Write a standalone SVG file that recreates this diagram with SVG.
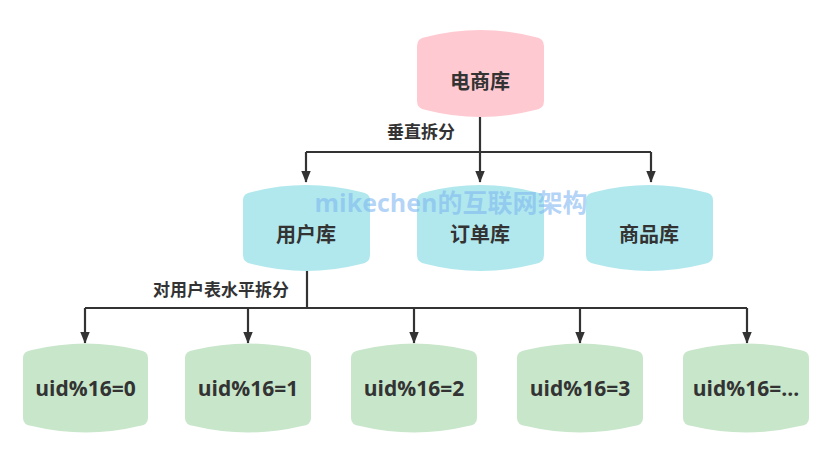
<svg xmlns="http://www.w3.org/2000/svg" width="831" height="464" viewBox="0 0 831 464">
<defs>
<style>
.lbl{font-family:"Noto Sans CJK SC","Liberation Sans",sans-serif;font-weight:bold;fill:#333;text-anchor:middle}
.node{font-size:20px}
.uid{font-family:"Open Sans","Noto Sans","Liberation Sans",sans-serif;font-weight:bold;fill:#333;text-anchor:middle;font-size:21px}
.edge{font-size:17px}
.c{stroke:#333;stroke-width:2.2;fill:none}
.pink{fill:#ffc9d1}
.cyan{fill:#b1e8ee}
.green{fill:#c8e6ca}
</style>
<marker id="ah" markerWidth="12" markerHeight="15" refX="14" refY="6" orient="auto" markerUnits="userSpaceOnUse" viewBox="0 0 15 12">
<path d="M0,0 L15,6 L0,12 Z" fill="#333"/>
</marker>
</defs>
<rect width="831" height="464" fill="#fff"/>
<g id="connectors">
<path class="c" d="M480,117 V182" marker-end="url(#ah)"/>
<path class="c" d="M306,152 H651"/>
<path class="c" d="M306,152 V182" marker-end="url(#ah)"/>
<path class="c" d="M651,152 V182" marker-end="url(#ah)"/>
<path class="c" d="M307,270 V308"/>
<path class="c" d="M85,308 H747"/>
<path class="c" d="M85,308 V343" marker-end="url(#ah)"/>
<path class="c" d="M248,308 V343" marker-end="url(#ah)"/>
<path class="c" d="M414,308 V343" marker-end="url(#ah)"/>
<path class="c" d="M580,308 V343" marker-end="url(#ah)"/>
<path class="c" d="M747,308 V343" marker-end="url(#ah)"/>
<text class="lbl edge" x="421" y="138">垂直拆分</text>
<text class="lbl edge" x="221" y="296">对用户表水平拆分</text>
</g>
<g id="n-ecom">
<path class="pink" d="M417,46 Q417,38 426,37 Q480,23 535,37 Q544,38 544,46 V101 Q544,109 535,110 Q480,124 426,110 Q417,109 417,101 Z"/>
<text class="lbl node" x="480" y="89">电商库</text>
</g>
<g id="n-user">
<path class="cyan" d="M243,200 Q243,193 252,192 Q306,178 361,192 Q370,193 370,200 V255 Q370,263 361,264 Q306,278 252,264 Q243,263 243,255 Z"/>
<text class="lbl node" x="306" y="242">用户库</text>
</g>
<g id="n-order">
<path class="cyan" d="M417,200 Q417,193 426,192 Q480,178 535,192 Q544,193 544,200 V255 Q544,263 535,264 Q480,278 426,264 Q417,263 417,255 Z"/>
<text class="lbl node" x="480" y="242">订单库</text>
</g>
<g id="n-goods">
<path class="cyan" d="M586,200 Q586,193 595,192 Q649,178 704,192 Q713,193 713,200 V255 Q713,263 704,264 Q649,278 595,264 Q586,263 586,255 Z"/>
<text class="lbl node" x="649" y="242">商品库</text>
</g>
<g id="n-u0">
<path class="green" d="M23,358 Q23,351 32,350 Q86,337 139,350 Q148,351 148,358 V418 Q148,425 139,426 Q86,439 32,426 Q23,425 23,418 Z"/>
<text class="uid" x="85.5" y="396">uid%16=0</text>
</g>
<g id="n-u1">
<path class="green" d="M185,358 Q185,351 194,350 Q248,337 302,350 Q311,351 311,358 V418 Q311,425 302,426 Q248,439 194,426 Q185,425 185,418 Z"/>
<text class="uid" x="248" y="396">uid%16=1</text>
</g>
<g id="n-u2">
<path class="green" d="M351,358 Q351,351 360,350 Q414,337 468,350 Q477,351 477,358 V418 Q477,425 468,426 Q414,439 360,426 Q351,425 351,418 Z"/>
<text class="uid" x="414" y="396">uid%16=2</text>
</g>
<g id="n-u3">
<path class="green" d="M517,358 Q517,351 526,350 Q580,337 634,350 Q643,351 643,358 V418 Q643,425 634,426 Q580,439 526,426 Q517,425 517,418 Z"/>
<text class="uid" x="580" y="396">uid%16=3</text>
</g>
<g id="n-u4">
<path class="green" d="M683,358 Q683,351 692,350 Q746,337 800,350 Q809,351 809,358 V418 Q809,425 800,426 Q746,439 692,426 Q683,425 683,418 Z"/>
<text class="uid" x="746" y="396">uid%16=...</text>
</g>
<text x="451" y="212" font-family="'Open Sans','Noto Sans CJK SC',sans-serif" font-weight="bold" font-size="25" fill="#7fb8f0" fill-opacity="0.6" text-anchor="middle">mikechen的互联网架构</text>
</svg>
